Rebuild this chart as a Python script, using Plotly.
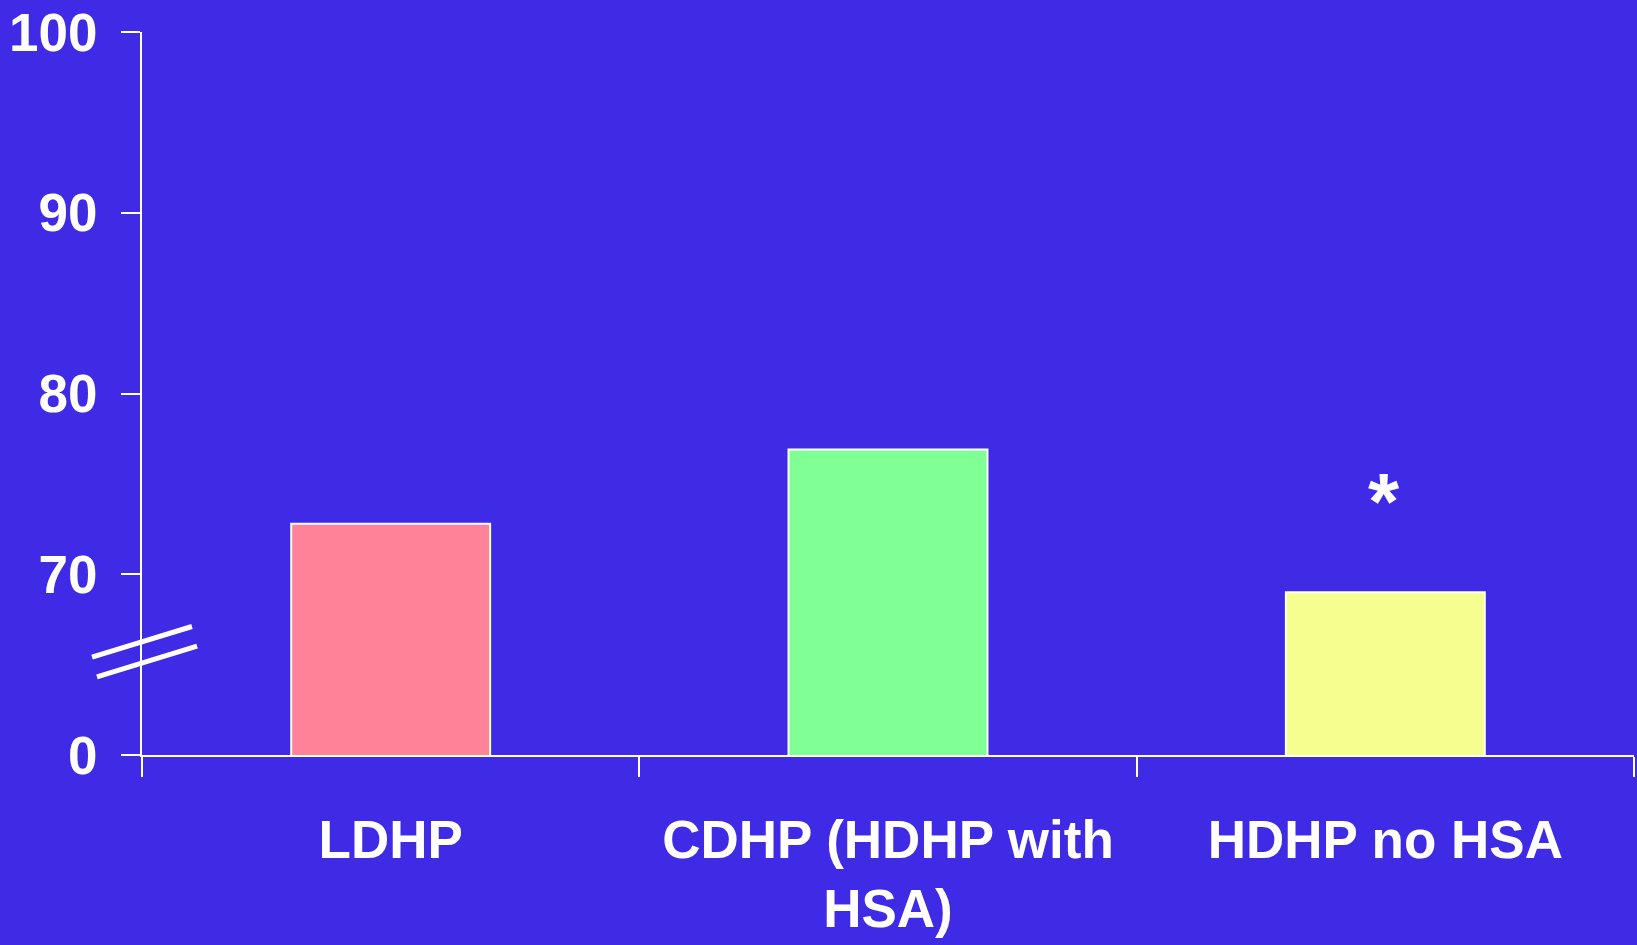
import plotly.graph_objects as go

categories = ["LDHP", "CDHP (HDHP with<br>HSA)", "HDHP no HSA"]
values = [72.8, 76.9, 69.0]
bar_colors = ["#ff8299", "#80ff95", "#f5ff8f"]
tick_vals = [60, 70, 80, 90, 100]
tick_text = ["0", "70", "80", "90", "100"]
star_category = "HDHP no HSA"
star_y = 74.0

BG = "#3f2be6"
FONT = dict(family="Arial, Liberation Sans, sans-serif", color="white", size=53, weight="bold")

fig = go.Figure()
fig.add_trace(go.Bar(
    x=categories, y=values,
    marker=dict(color=bar_colors, line=dict(color="white", width=2)),
    width=0.4,
))

fig.add_annotation(x=star_category, y=star_y, text="*", showarrow=False, xshift=-1,
                   font=dict(family="Arial, Liberation Sans, sans-serif", color="white", size=80, weight="bold"),
                   yanchor="middle")

# axis break marks
for (x0, y0, x1, y1) in [(-0.0335, 65.41, 0.0335, 67.11), (-0.0302, 64.32, 0.0369, 66.02)]:
    fig.add_shape(type="line", xref="paper", yref="y", x0=x0, y0=y0, x1=x1, y1=y1,
                  line=dict(color="white", width=5), layer="above")

fig.update_layout(
    width=1637, height=945,
    paper_bgcolor=BG, plot_bgcolor=BG,
    margin=dict(l=142, r=3, t=27, b=190),
    showlegend=False,
    font=FONT,
    xaxis=dict(
        range=[-0.5, 2.5], showgrid=False, zeroline=False,
        showline=True, linecolor="white", linewidth=2,
        ticks="outside", tickson="boundaries", ticklen=20, tickwidth=2, tickcolor="white",
        tickfont=FONT, ticklabelstandoff=37, ticklabeloverflow="allow",
    ),
    yaxis=dict(
        range=[60, 100], showgrid=False, zeroline=False,
        showline=True, linecolor="white", linewidth=2,
        tickvals=tick_vals, ticktext=tick_text,
        ticks="outside", ticklen=19, tickwidth=2, tickcolor="white",
        tickfont=FONT, ticklabelstandoff=13, ticklabeloverflow="allow",
    ),
)

fig.write_html("out.html", config={"displayModeBar": False},
               post_script="document.body.style.margin='0';document.body.style.overflow='hidden';document.body.style.background='%s';" % BG)
